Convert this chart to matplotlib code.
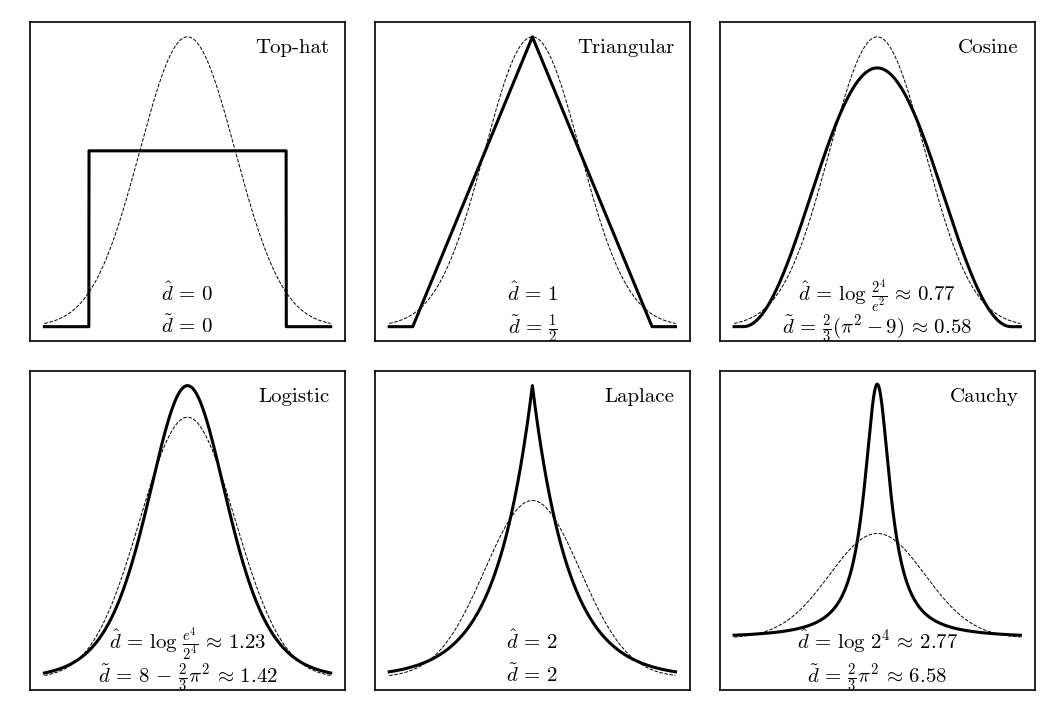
import matplotlib
matplotlib.use("Agg")
import matplotlib.pyplot as plt
import numpy as np

plt.rcParams['mathtext.fontset'] = 'cm'
plt.rcParams['font.family'] = 'serif'
plt.rcParams['font.serif'] = ['cmr10']
plt.rcParams['axes.unicode_minus'] = False

# kernel names, scale parameters (all kernels share the entropy of the unit gaussian)
names = ["Top-hat", "Triangular", "Cosine", "Logistic", "Laplace", "Cauchy"]
widths = [2.066, 2.507, 2.808, 0.559, 0.760, 0.329]
line1 = [r"$\hat{d}\,=\,0$",
         r"$\hat{d}\,=\,1$",
         r"$\hat{d}\,=\,\log\,\frac{2^4}{e^2}\,\approx\,0.77$",
         r"$\hat{d}\,=\,\log\,\frac{e^4}{2^4}\,\approx\,1.23$",
         r"$\hat{d}\,=\,2$",
         r"$\hat{d}\,=\,\log\,2^4\,\approx\,2.77$"]
line2 = [r"$\tilde{d}\,=\,0$",
         r"$\tilde{d}\,=\,\frac{1}{2}$",
         r"$\tilde{d}\,=\,\frac{2}{3}(\pi^2 - 9)\,\approx\,0.58$",
         r"$\tilde{d}\,=\,8\,-\,\frac{2}{3}\pi^2\,\approx\,1.42$",
         r"$\tilde{d}\,=\,2$",
         r"$\tilde{d}\,=\,\frac{2}{3}\pi^2\,\approx\,6.58$"]
ylims = [None, None, None, None, None, (-0.197, 1.017)]

x = np.linspace(-3, 3, 3001)


def kernel(name, w):
    if name == "Top-hat":
        return np.where(np.abs(x) <= w, 0.5 / w, 0.0)
    if name == "Triangular":
        return np.clip(1 - np.abs(x) / w, 0, None) / w
    if name == "Cosine":
        return np.where(np.abs(x) <= w, (1 + np.cos(np.pi * x / w)) / (2 * w), 0.0)
    if name == "Logistic":
        e = np.exp(-np.abs(x) / w)
        return e / (w * (1 + e) ** 2)
    if name == "Laplace":
        return np.exp(-np.abs(x) / w) / (2 * w)
    if name == "Cauchy":
        return 1.0 / (np.pi * w * (1 + (x / w) ** 2))


gauss = np.exp(-0.5 * x ** 2) / np.sqrt(2 * np.pi)

fig = plt.figure(figsize=(10.58, 7.2), dpi=100)
fig.subplots_adjust(left=0.0284, right=0.978, bottom=0.0417, top=0.969,
                    wspace=0.095, hspace=0.094)

for i in range(6):
    ax = fig.add_subplot(2, 3, i + 1)
    ax.plot(x, kernel(names[i], widths[i]), '-k', lw=2.2)
    ax.plot(x, gauss, '--k', lw=0.7)
    if ylims[i] is not None:
        ax.set_ylim(ylims[i])
    ax.set_xticks([])
    ax.set_yticks([])
    for s in ax.spines.values():
        s.set_linewidth(1.2)
    ax.text(0.95, 0.903, names[i], transform=ax.transAxes,
            ha='right', va='baseline', fontsize=15)
    ax.text(0.5, 0.127, line1[i], transform=ax.transAxes,
            ha='center', va='baseline', fontsize=15)
    ax.text(0.5, 0.025, line2[i], transform=ax.transAxes,
            ha='center', va='baseline', fontsize=15)

fig.savefig("out.png", dpi=100)
